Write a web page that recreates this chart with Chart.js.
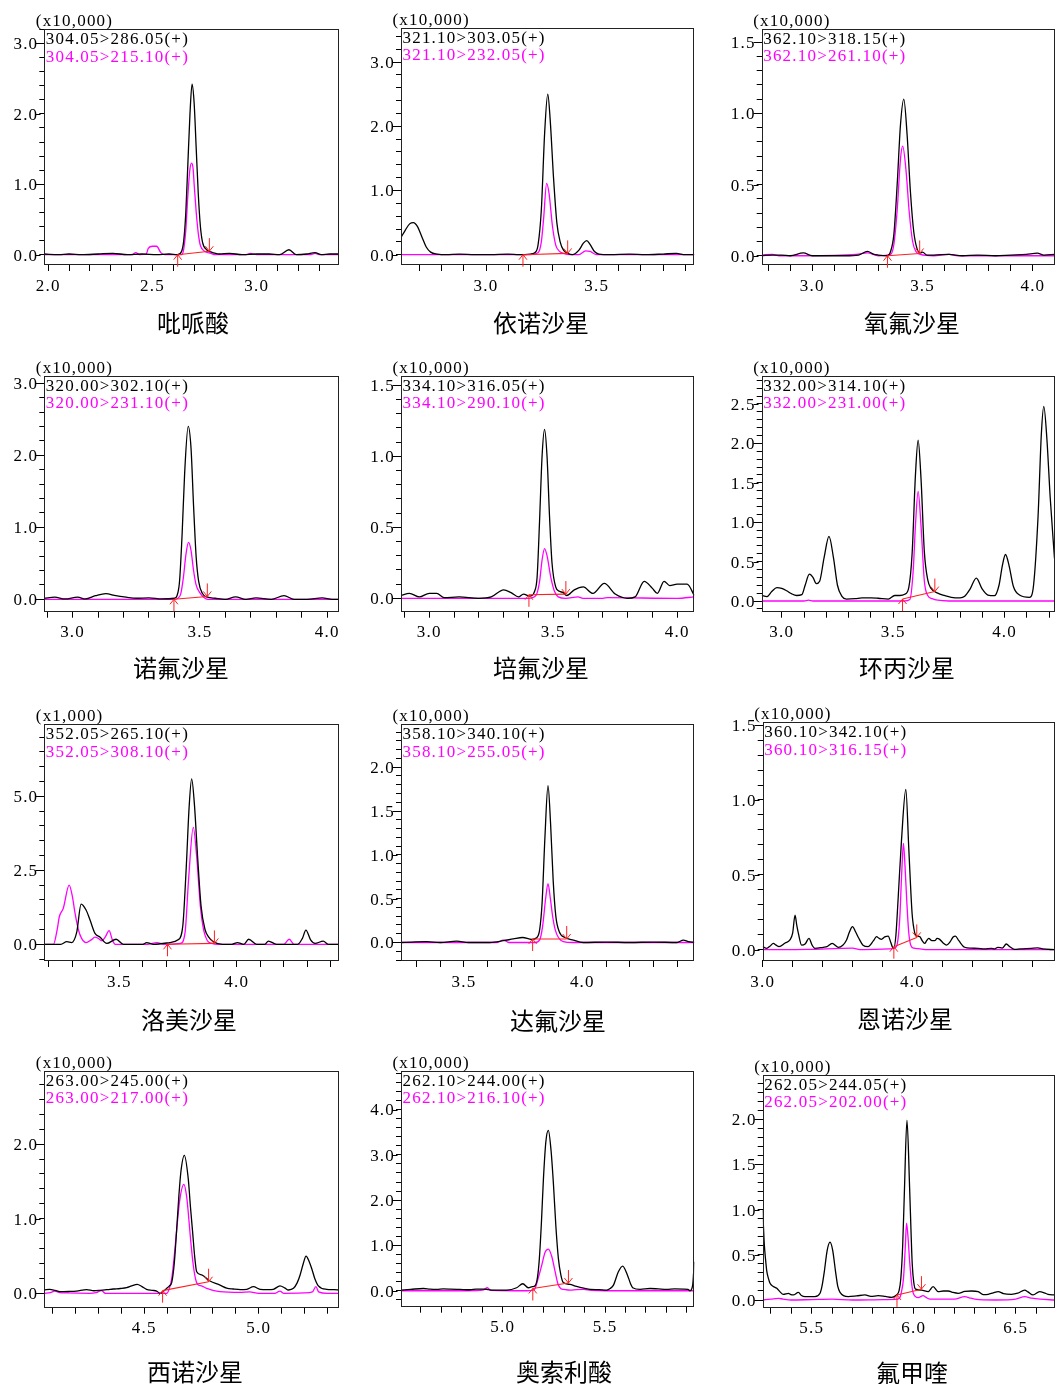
<!DOCTYPE html>
<html>
<head>
<meta charset="utf-8">
<script src="https://cdn.jsdelivr.net/npm/chart.js@4.4.0/dist/chart.umd.min.js"></script>
<style>
    html, body { margin: 0; padding: 0; background: #fff; }
    #page { position: relative; width: 1055px; height: 1384px; overflow: hidden; }
    #page canvas { position: absolute; }
</style>
</head>
<body>
<div id="page"></div>
<script>
const p1Black = [[1.981,0.01],[2.05,0.0],[2.10,0.01],[2.16,0.0],[2.24,0.01],[2.31,0.02],[2.38,0.0],[2.45,0.01],[2.52,0.0],[2.58,0.01],[2.62,0.0],[2.64,0.05],[2.65,0.2],[2.66,0.6],[2.67,1.3],[2.68,2.0],[2.69,2.42],[2.70,2.15],[2.71,1.5],[2.72,0.85],[2.73,0.4],[2.74,0.18],[2.76,0.07],[2.78,0.04],[2.82,0.01],[2.87,0.02],[2.93,0.0],[3.0,0.01],[3.06,0.01],[3.11,0.0],[3.155,0.07],[3.19,0.0],[3.24,0.01],[3.28,0.03],[3.31,0.0],[3.35,0.01],[3.395,0.01]];
const p1Pink = [[1.981,0.0],[2.40,0.0],[2.42,0.03],[2.44,0.0],[2.47,0.01],[2.48,0.09],[2.50,0.12],[2.52,0.12],[2.54,0.03],[2.56,0.0],[2.64,0.0],[2.65,0.08],[2.66,0.35],[2.67,0.85],[2.68,1.22],[2.688,1.3],[2.695,1.22],[2.70,1.0],[2.71,0.6],[2.72,0.3],[2.73,0.13],[2.75,0.05],[2.78,0.02],[2.80,0.0],[2.95,0.0],[2.97,0.02],[3.0,0.0],[3.26,0.0],[3.28,0.02],[3.30,0.0],[3.395,0.0]];
const p1Base = [[2.621,0.0],[2.773,0.05]];

const p2Black = [[2.616,0.27],[2.635,0.38],[2.655,0.48],[2.672,0.50],[2.69,0.44],[2.71,0.28],[2.73,0.12],[2.75,0.04],[2.78,0.01],[2.82,0.0],[2.88,0.01],[2.95,0.0],[3.02,0.0],[3.10,0.01],[3.15,0.0],[3.20,0.01],[3.22,0.03],[3.235,0.15],[3.25,0.7],[3.265,1.9],[3.279,2.50],[3.29,2.1],[3.305,1.2],[3.32,0.5],[3.335,0.2],[3.35,0.07],[3.37,0.02],[3.39,0.0],[3.42,0.07],[3.44,0.18],[3.455,0.22],[3.47,0.16],[3.49,0.05],[3.51,0.01],[3.56,0.0],[3.65,0.01],[3.72,0.0],[3.80,0.01],[3.86,0.02],[3.90,0.0],[3.941,0.0]];
const p2Pink = [[2.616,0.0],[3.20,0.0],[3.235,0.03],[3.25,0.2],[3.26,0.55],[3.274,1.11],[3.285,0.95],[3.30,0.45],[3.315,0.15],[3.33,0.06],[3.35,0.02],[3.38,0.0],[3.42,0.0],[3.45,0.06],[3.47,0.05],[3.50,0.0],[3.941,0.0]];
const p2Base = [[3.167,0.0],[3.369,0.02]];

const p3Black = [[2.771,0.0],[2.82,0.005],[2.86,0.005],[2.90,0.0],[2.96,0.02],[3.0,0.0],[3.05,0.0],[3.15,0.0],[3.21,0.005],[3.25,0.03],[3.28,0.01],[3.30,0.005],[3.34,0.0],[3.355,0.03],[3.37,0.15],[3.385,0.5],[3.40,0.92],[3.415,1.10],[3.43,0.85],[3.445,0.45],[3.46,0.17],[3.475,0.05],[3.49,0.02],[3.50,0.025],[3.52,0.005],[3.55,0.005],[3.62,0.01],[3.68,0.0],[3.75,0.005],[3.83,0.0],[3.9,0.005],[3.97,0.01],[4.02,0.018],[4.05,0.005],[4.098,0.01]];
const p3Pink = [[2.771,0.005],[2.82,0.01],[2.85,0.0],[2.97,0.0],[3.20,0.01],[3.25,0.02],[3.30,0.0],[3.355,0.01],[3.37,0.08],[3.385,0.32],[3.40,0.68],[3.41,0.77],[3.425,0.6],[3.44,0.3],[3.455,0.1],[3.47,0.03],[3.49,0.01],[3.55,0.0],[3.62,0.01],[3.66,0.0],[4.098,0.0]];
const p3Base = [[3.341,0.0],[3.487,0.016]];

const p4Black = [[2.889,0.015],[2.93,0.03],[2.97,0.005],[3.02,0.03],[3.05,0.005],[3.09,0.05],[3.13,0.08],[3.17,0.05],[3.21,0.03],[3.25,0.015],[3.30,0.02],[3.35,0.005],[3.40,0.015],[3.41,0.05],[3.42,0.25],[3.43,0.9],[3.44,1.75],[3.454,2.40],[3.465,2.1],[3.475,1.3],[3.485,0.6],[3.495,0.25],[3.51,0.08],[3.53,0.03],[3.56,0.015],[3.60,0.0],[3.64,0.035],[3.68,0.0],[3.72,0.02],[3.78,0.0],[3.83,0.05],[3.87,0.0],[3.92,0.0],[3.98,0.02],[4.02,0.0],[4.046,0.0]];
const p4Pink = [[2.889,0.0],[3.40,0.0],[3.415,0.02],[3.425,0.08],[3.435,0.3],[3.445,0.62],[3.455,0.79],[3.465,0.68],[3.475,0.4],[3.485,0.2],[3.50,0.09],[3.515,0.03],[3.53,0.0],[4.046,0.0]];
const p4Base = [[3.398,0.0],[3.529,0.04]];

const p5Black = [[2.886,0.02],[2.92,0.035],[2.96,0.01],[3.0,0.035],[3.03,0.035],[3.06,0.005],[3.12,0.01],[3.2,0.0],[3.25,0.01],[3.30,0.06],[3.33,0.04],[3.36,0.01],[3.38,0.03],[3.405,0.015],[3.425,0.05],[3.435,0.15],[3.445,0.55],[3.455,1.0],[3.465,1.19],[3.475,1.0],[3.485,0.58],[3.495,0.25],[3.51,0.08],[3.525,0.05],[3.54,0.04],[3.554,0.02],[3.585,0.06],[3.621,0.08],[3.66,0.035],[3.706,0.105],[3.75,0.03],[3.80,0.0],[3.83,0.01],[3.867,0.12],[3.90,0.07],[3.92,0.035],[3.947,0.12],[3.97,0.09],[4.0,0.10],[4.04,0.10],[4.069,0.02]];
const p5Pink = [[2.886,0.0],[3.40,0.0],[3.43,0.02],[3.445,0.12],[3.455,0.27],[3.465,0.35],[3.475,0.3],[3.49,0.15],[3.505,0.05],[3.52,0.01],[3.55,0.0],[3.6,0.01],[3.62,0.0],[3.70,0.0],[3.72,0.005],[4.0,0.0],[4.069,0.01]];
const p5Base = [[3.402,0.025],[3.551,0.03]];

const p6Black = [[2.91,0.07],[2.933,0.055],[2.955,0.12],[2.978,0.17],[3.0,0.16],[3.022,0.13],[3.045,0.09],[3.067,0.07],[3.09,0.08],[3.105,0.2],[3.124,0.34],[3.14,0.3],[3.155,0.22],[3.17,0.25],[3.19,0.55],[3.212,0.82],[3.232,0.55],[3.25,0.2],[3.27,0.06],[3.29,0.025],[3.33,0.03],[3.36,0.04],[3.40,0.04],[3.433,0.035],[3.478,0.025],[3.507,0.07],[3.53,0.07],[3.552,0.085],[3.57,0.17],[3.585,0.6],[3.60,1.6],[3.612,2.04],[3.625,1.55],[3.64,0.62],[3.655,0.27],[3.67,0.16],[3.70,0.10],[3.73,0.07],[3.761,0.047],[3.80,0.04],[3.821,0.06],[3.845,0.15],[3.873,0.29],[3.90,0.15],[3.925,0.076],[3.955,0.068],[3.975,0.2],[3.99,0.45],[4.004,0.59],[4.02,0.45],[4.04,0.18],[4.067,0.076],[4.112,0.047],[4.13,0.2],[4.15,1.06],[4.165,2.12],[4.176,2.47],[4.19,2.05],[4.205,1.3],[4.224,0.54]];
const p6Pink = [[2.91,0.0],[3.10,0.0],[3.12,0.01],[3.14,0.0],[3.55,0.0],[3.575,0.02],[3.59,0.39],[3.60,0.96],[3.612,1.39],[3.625,0.95],[3.64,0.25],[3.655,0.07],[3.675,0.03],[3.70,0.01],[3.75,0.0],[4.224,0.0]];
const p6Base = [[3.542,0.025],[3.687,0.12]];

const p7Black = [[3.18,0.0],[3.25,0.0],[3.276,0.09],[3.297,0.06],[3.318,0.4],[3.337,1.36],[3.358,1.16],[3.375,0.82],[3.396,0.37],[3.418,0.24],[3.446,0.03],[3.486,0.17],[3.517,0.0],[3.60,0.0],[3.616,0.06],[3.645,0.0],[3.716,0.06],[3.75,0.15],[3.77,0.6],[3.785,2.6],[3.797,4.6],[3.808,5.59],[3.82,4.7],[3.833,3.0],[3.848,1.3],[3.865,0.5],[3.88,0.25],[3.90,0.09],[3.94,0.0],[3.98,0.0],[4.003,0.06],[4.03,0.0],[4.051,0.17],[4.085,0.0],[4.12,0.0],[4.135,0.11],[4.17,0.0],[4.26,0.0],[4.28,0.2],[4.295,0.48],[4.315,0.15],[4.334,0.03],[4.369,0.11],[4.39,0.0],[4.436,0.0]];
const p7Pink = [[3.18,0.0],[3.219,0.0],[3.235,0.5],[3.244,0.93],[3.261,1.22],[3.286,2.0],[3.30,1.6],[3.311,1.05],[3.325,0.5],[3.339,0.2],[3.358,0.06],[3.38,0.15],[3.396,0.24],[3.41,0.2],[3.425,0.12],[3.44,0.25],[3.456,0.46],[3.47,0.15],[3.482,0.0],[3.62,0.0],[3.66,0.06],[3.69,0.0],[3.76,0.03],[3.78,0.4],[3.795,2.2],[3.815,3.95],[3.83,2.9],[3.845,1.3],[3.86,0.45],[3.875,0.12],[3.894,0.03],[3.92,0.0],[4.20,0.0],[4.224,0.17],[4.245,0.0],[4.436,0.0]];
const p7Base = [[3.705,0.0],[3.905,0.03]];

const p8Black = [[3.234,0.0],[3.28,0.005],[3.342,0.01],[3.40,0.0],[3.469,0.015],[3.52,0.0],[3.61,0.0],[3.666,0.02],[3.708,0.04],[3.748,0.057],[3.786,0.034],[3.807,0.053],[3.82,0.15],[3.83,0.45],[3.842,1.2],[3.855,1.79],[3.866,1.35],[3.877,0.7],[3.888,0.3],[3.903,0.12],[3.927,0.057],[3.962,0.027],[4.004,0.0],[4.10,0.005],[4.20,0.0],[4.30,0.005],[4.40,0.0],[4.427,0.027],[4.448,0.01],[4.473,0.0]];
const p8Pink = [[3.234,0.0],[3.64,0.0],[3.666,0.027],[3.69,0.0],[3.80,0.0],[3.82,0.03],[3.832,0.18],[3.845,0.5],[3.855,0.67],[3.865,0.5],[3.875,0.29],[3.885,0.15],[3.899,0.057],[3.92,0.01],[3.96,0.0],[4.473,0.0]];
const p8Base = [[3.79,0.04],[3.934,0.04]];

const p9Black = [[3.0,0.02],[3.027,0.009],[3.05,0.025],[3.071,0.042],[3.09,0.03],[3.109,0.02],[3.15,0.045],[3.182,0.065],[3.2,0.11],[3.216,0.23],[3.228,0.16],[3.238,0.11],[3.26,0.03],[3.285,0.04],[3.309,0.076],[3.33,0.03],[3.349,0.009],[3.404,0.016],[3.43,0.02],[3.464,0.042],[3.504,0.016],[3.535,0.03],[3.56,0.065],[3.58,0.12],[3.6,0.154],[3.62,0.12],[3.642,0.076],[3.67,0.03],[3.704,0.02],[3.74,0.06],[3.76,0.087],[3.778,0.075],[3.793,0.069],[3.815,0.085],[3.838,0.091],[3.855,0.05],[3.867,0.016],[3.876,0.01],[3.89,0.1],[3.904,0.33],[3.927,0.73],[3.956,1.07],[3.976,0.67],[3.998,0.24],[4.016,0.11],[4.03,0.09],[4.049,0.087],[4.065,0.06],[4.082,0.042],[4.095,0.06],[4.109,0.076],[4.13,0.06],[4.149,0.06],[4.165,0.075],[4.182,0.069],[4.205,0.045],[4.227,0.03],[4.25,0.05],[4.272,0.085],[4.287,0.091],[4.31,0.06],[4.349,0.016],[4.39,0.01],[4.438,0.009],[4.48,0.005],[4.527,0.009],[4.55,0.005],[4.571,0.016],[4.6,0.01],[4.627,0.038],[4.65,0.02],[4.682,0.002],[4.72,0.005],[4.793,0.009],[4.838,0.012],[4.87,0.005],[4.949,0.0]];
const p9Pink = [[3.0,0.0],[3.3,0.002],[3.6,0.01],[3.65,0.0],[3.85,0.005],[3.893,0.02],[3.905,0.08],[3.916,0.22],[3.928,0.5],[3.94,0.71],[3.951,0.55],[3.962,0.33],[3.975,0.12],[3.989,0.03],[4.01,0.01],[4.038,0.007],[4.1,0.0],[4.949,0.0]];
const p9Base = [[3.876,0.02],[4.029,0.082]];

const p10Black = [[4.063,0.045],[4.087,0.054],[4.11,0.04],[4.131,0.022],[4.17,0.025],[4.204,0.031],[4.248,0.049],[4.28,0.035],[4.306,0.04],[4.34,0.05],[4.364,0.058],[4.395,0.065],[4.423,0.076],[4.445,0.1],[4.469,0.12],[4.49,0.09],[4.51,0.054],[4.535,0.04],[4.554,0.031],[4.569,0.0],[4.585,0.03],[4.598,0.067],[4.61,0.1],[4.62,0.147],[4.631,0.4],[4.641,0.83],[4.651,1.3],[4.66,1.63],[4.675,1.85],[4.692,1.54],[4.702,1.15],[4.711,0.83],[4.72,0.5],[4.729,0.29],[4.751,0.246],[4.787,0.165],[4.831,0.11],[4.86,0.07],[4.889,0.058],[4.92,0.05],[4.948,0.054],[4.977,0.089],[5.006,0.054],[5.04,0.05],[5.064,0.054],[5.093,0.1],[5.115,0.07],[5.13,0.045],[5.152,0.067],[5.168,0.14],[5.181,0.246],[5.195,0.4],[5.207,0.5],[5.22,0.43],[5.232,0.33],[5.245,0.2],[5.261,0.1],[5.297,0.054],[5.33,0.05],[5.351,0.045]];
const p10Pink = [[4.063,0.0],[4.09,0.01],[4.109,0.03],[4.13,0.01],[4.16,0.005],[4.26,0.0],[4.29,0.01],[4.313,0.036],[4.33,0.0],[4.598,0.0],[4.608,0.05],[4.62,0.2],[4.631,0.5],[4.641,0.83],[4.655,1.25],[4.673,1.46],[4.685,1.3],[4.692,1.09],[4.703,0.7],[4.714,0.38],[4.725,0.18],[4.733,0.12],[4.75,0.1],[4.773,0.067],[4.8,0.04],[4.831,0.022],[4.918,0.013],[4.96,0.02],[5.0,0.0],[5.07,0.0],[5.093,0.031],[5.11,0.0],[5.2,0.005],[5.235,0.02],[5.25,0.09],[5.262,0.02],[5.3,0.0],[5.351,0.0]];
const p10Base = [[4.58,0.036],[4.781,0.156]];

const p11Black = [[4.503,0.015],[4.55,0.03],[4.612,0.05],[4.645,0.035],[4.678,0.03],[4.71,0.04],[4.743,0.037],[4.79,0.03],[4.84,0.022],[4.87,0.035],[4.906,0.037],[4.93,0.025],[4.954,0.015],[5.02,0.015],[5.068,0.066],[5.098,0.155],[5.125,0.066],[5.145,0.09],[5.158,0.11],[5.17,0.3],[5.179,0.71],[5.189,1.5],[5.199,2.48],[5.211,3.3],[5.223,3.54],[5.236,3.1],[5.248,2.34],[5.26,1.4],[5.272,0.71],[5.284,0.35],[5.296,0.18],[5.329,0.14],[5.355,0.1],[5.378,0.074],[5.427,0.03],[5.47,0.025],[5.508,0.015],[5.525,0.05],[5.541,0.125],[5.565,0.42],[5.586,0.545],[5.609,0.35],[5.625,0.15],[5.635,0.066],[5.671,0.03],[5.72,0.05],[5.76,0.04],[5.801,0.03],[5.84,0.04],[5.883,0.037],[5.905,0.03],[5.915,0.0],[5.928,0.125],[5.936,0.64]];
const p11Pink = [[4.503,0.0],[4.8,0.0],[4.89,0.01],[4.906,0.02],[4.925,0.066],[4.94,0.01],[5.117,0.0],[5.145,0.01],[5.158,0.05],[5.175,0.3],[5.191,0.57],[5.207,0.85],[5.223,0.92],[5.24,0.75],[5.256,0.42],[5.27,0.15],[5.283,0.05],[5.3,0.03],[5.329,0.015],[5.36,0.025],[5.394,0.03],[5.43,0.01],[5.5,0.0],[5.936,0.0]];
const p11Base = [[5.147,0.05],[5.321,0.17]];

const p12Black = [[5.26,1.0],[5.264,0.8],[5.268,0.61],[5.274,0.45],[5.28,0.32],[5.288,0.24],[5.296,0.185],[5.312,0.15],[5.329,0.13],[5.345,0.09],[5.361,0.063],[5.386,0.074],[5.398,0.06],[5.41,0.056],[5.435,0.085],[5.45,0.05],[5.467,0.037],[5.516,0.037],[5.541,0.074],[5.552,0.17],[5.562,0.315],[5.576,0.55],[5.59,0.64],[5.603,0.55],[5.617,0.315],[5.628,0.15],[5.639,0.085],[5.679,0.037],[5.72,0.045],[5.761,0.056],[5.79,0.04],[5.826,0.048],[5.86,0.04],[5.892,0.03],[5.916,0.056],[5.928,0.1],[5.937,0.24],[5.946,0.6],[5.954,1.17],[5.967,1.99],[5.98,1.24],[5.987,0.75],[5.993,0.39],[6.0,0.2],[6.009,0.12],[6.038,0.11],[6.071,0.093],[6.095,0.148],[6.12,0.093],[6.145,0.1],[6.169,0.1],[6.19,0.085],[6.218,0.074],[6.25,0.095],[6.283,0.1],[6.316,0.093],[6.34,0.06],[6.365,0.063],[6.39,0.08],[6.414,0.093],[6.44,0.07],[6.479,0.063],[6.51,0.075],[6.544,0.11],[6.56,0.09],[6.585,0.056],[6.617,0.093],[6.64,0.08],[6.658,0.063],[6.69,0.056]];
const p12Pink = [[5.26,0.0],[5.3,0.01],[5.337,0.019],[5.36,0.01],[5.4,0.0],[5.5,0.005],[5.6,0.01],[5.7,0.0],[5.85,0.005],[5.92,0.01],[5.932,0.026],[5.94,0.09],[5.95,0.24],[5.958,0.55],[5.965,0.85],[5.972,0.7],[5.98,0.43],[5.99,0.18],[5.998,0.074],[6.022,0.026],[6.046,0.048],[6.06,0.03],[6.08,0.01],[6.2,0.01],[6.25,0.037],[6.28,0.02],[6.3,0.01],[6.4,0.0],[6.5,0.01],[6.544,0.037],[6.58,0.02],[6.62,0.01],[6.69,0.0]];
const p12Base = [[5.918,0.056],[6.038,0.12]];

// ---- textos ----
const titles = ['吡哌酸', '依诺沙星', '氧氟沙星', '诺氟沙星', '培氟沙星', '环丙沙星',
                '洛美沙星', '达氟沙星', '恩诺沙星', '西诺沙星', '奥索利酸', '氟甲喹'];
const units = ['(x10,000)', '(x10,000)', '(x10,000)', '(x10,000)', '(x10,000)', '(x10,000)',
               '(x1,000)', '(x10,000)', '(x10,000)', '(x10,000)', '(x10,000)', '(x10,000)'];
const blackLabels = ['304.05>286.05(+)', '321.10>303.05(+)', '362.10>318.15(+)', '320.00>302.10(+)',
                     '334.10>316.05(+)', '332.00>314.10(+)', '352.05>265.10(+)', '358.10>340.10(+)',
                     '360.10>342.10(+)', '263.00>245.00(+)', '262.10>244.00(+)', '262.05>244.05(+)'];
const pinkLabels = ['304.05>215.10(+)', '321.10>232.05(+)', '362.10>261.10(+)', '320.00>231.10(+)',
                    '334.10>290.10(+)', '332.00>231.00(+)', '352.05>308.10(+)', '358.10>255.05(+)',
                    '360.10>316.15(+)', '263.00>217.00(+)', '262.10>216.10(+)', '262.05>202.00(+)'];

// ---- ejes: [min, max, paso menor, paso mayor] ----
const xAxes = [[1.981, 3.395, 0.1, 0.5], [2.616, 3.941, 0.1, 0.5], [2.771, 4.098, 0.1, 0.5],
               [2.889, 4.046, 0.1, 0.5], [2.886, 4.069, 0.1, 0.5], [2.910, 4.224, 0.1, 0.5],
               [3.18, 4.436, 0.1, 0.5], [3.234, 4.473, 0.1, 0.5], [3.0, 4.949, 0.2, 1.0],
               [4.063, 5.351, 0.1, 0.5], [4.503, 5.936, 0.1, 0.5], [5.26, 6.69, 0.1, 0.5]];
const yAxes = [[-0.132, 3.20, 0.2, 1.0], [-0.145, 3.53, 0.2, 1.0], [-0.058, 1.593, 0.1, 0.5],
               [-0.158, 3.10, 0.2, 1.0], [-0.087, 1.565, 0.1, 0.5], [-0.123, 2.855, 0.1, 0.5],
               [-0.53, 7.43, 0.5, 2.5], [-0.20, 2.49, 0.1, 0.5], [-0.069, 1.519, 0.1, 0.5],
               [-0.179, 2.98, 0.2, 1.0], [-0.33, 4.85, 0.2, 1.0], [-0.074, 2.49, 0.1, 0.5]];

const blackSeries = [p1Black, p2Black, p3Black, p4Black, p5Black, p6Black, p7Black, p8Black, p9Black, p10Black, p11Black, p12Black];
const pinkSeries = [p1Pink, p2Pink, p3Pink, p4Pink, p5Pink, p6Pink, p7Pink, p8Pink, p9Pink, p10Pink, p11Pink, p12Pink];
const baseSeries = [p1Base, p2Base, p3Base, p4Base, p5Base, p6Base, p7Base, p8Base, p9Base, p10Base, p11Base, p12Base];

// ---- disposición en la página ----
const colLeft = [0, 350, 705], colWidth = [350, 355, 350];
const rowTop = [0, 345, 695, 1045], rowHeight = [345, 350, 350, 339];
const boxes = [
    [44.3, 29.3, 339, 264], [401, 28, 694.3, 264], [761.7, 29, 1054.5, 264],
    [44.3, 376, 339, 610.7], [401, 376, 694.3, 610.7], [761.7, 376, 1054.5, 610.7],
    [44.3, 724.3, 339, 960], [401, 724.3, 694.3, 960], [762.7, 722.3, 1054.5, 960],
    [44.3, 1071, 339, 1306.7], [401, 1071, 694.3, 1305.7], [762.7, 1075, 1054.5, 1306.7]
];
const titlePos = [[193, 323], [541, 323], [912, 323], [181, 668], [541, 668], [907, 668],
                  [189, 1020], [558, 1021], [905, 1019], [195, 1372], [564, 1372], [912, 1373]];

const Y_W = 40, X_H = 32;
const SERIF = '"Liberation Serif", "Times New Roman", serif';
const CJK = '"Noto Sans CJK SC", "Noto Sans", sans-serif';

const toPts = arr => arr.map(([x, y]) => ({ x, y }));
const isMajor = (v, major) => Math.abs(v / major - Math.round(v / major)) < 1e-6;

// Marco, flechas de la línea base, textos
const decor = {
    id: 'decor',
    beforeDraw(chart) {
        chart.ctx.letterSpacing = '1.2px';
    },
    afterDraw(chart, args, o) {
        const { ctx, chartArea: a } = chart;
        const yScale = chart.scales.y;
        ctx.save();
        ctx.letterSpacing = '1.2px';

        // marco del gráfico
        ctx.strokeStyle = '#222';
        ctx.lineWidth = 1;
        const l = Math.round(a.left) + 0.5, t = Math.round(a.top) + 0.5;
        const r = Math.round(a.right) - 0.5, b = Math.round(a.bottom) + 0.5;
        ctx.strokeRect(l, t, r - l, b - t);

        // marcas mayores del eje Y un poco más largas
        ctx.strokeStyle = '#000';
        ctx.beginPath();
        yScale.ticks.forEach(tk => {
            if (!isMajor(tk.value, o.yMajor)) return;
            const py = Math.round(yScale.getPixelForValue(tk.value)) + 0.5;
            ctx.moveTo(l - 9, py);
            ctx.lineTo(l - 4, py);
        });
        ctx.stroke();

        // flechas de inicio y fin de la integración
        const pts = chart.getDatasetMeta(0).data;
        if (pts.length === 2) {
            ctx.strokeStyle = '#ff2020';
            ctx.lineWidth = 1;
            const s = pts[0], e = pts[1];
            ctx.beginPath();
            ctx.moveTo(s.x, s.y + 12); ctx.lineTo(s.x, s.y);
            ctx.moveTo(s.x - 4, s.y + 5); ctx.lineTo(s.x, s.y); ctx.lineTo(s.x + 4, s.y + 5);
            ctx.moveTo(e.x, e.y - 13); ctx.lineTo(e.x, e.y);
            ctx.moveTo(e.x - 4, e.y - 5); ctx.lineTo(e.x, e.y); ctx.lineTo(e.x + 4, e.y - 5);
            ctx.stroke();
        }

        // factor de escala y leyenda
        ctx.font = '17px ' + SERIF;
        ctx.textBaseline = 'middle';
        ctx.textAlign = 'left';
        ctx.fillStyle = '#000';
        ctx.fillText(o.unit, a.left - 8.5, a.top - 7.5);
        ctx.fillText(o.black, a.left + 1.5, a.top + 10.5);
        ctx.fillStyle = '#ff00ff';
        ctx.fillText(o.pink, a.left + 1.5, a.top + 28);

        // nombre del compuesto
        ctx.letterSpacing = '0px';
        ctx.font = '24px ' + CJK;
        ctx.fillStyle = '#000';
        ctx.textAlign = 'center';
        ctx.fillText(o.title, o.titleX, o.titleY);
        ctx.restore();
    }
};

const page = document.getElementById('page');

titles.forEach((title, i) => {
    const col = i % 3, row = Math.floor(i / 3);
    const cx = colLeft[col], cy = rowTop[row], cw = colWidth[col], ch = rowHeight[row];
    const [L, T, R, B] = boxes[i];
    const [xMin, xMax, xStep, xMajor] = xAxes[i];
    const [yMin, yMax, yStep, yMajor] = yAxes[i];

    const canvas = document.createElement('canvas');
    canvas.width = cw;
    canvas.height = ch;
    canvas.style.left = cx + 'px';
    canvas.style.top = cy + 'px';
    page.appendChild(canvas);

    new Chart(canvas, {
        type: 'line',
        data: {
            datasets: [
                { data: toPts(baseSeries[i]), borderColor: '#ff2020', borderWidth: 1.1, pointRadius: 0, tension: 0 },
                { data: toPts(blackSeries[i]), borderColor: '#000', borderWidth: 1.3, pointRadius: 0, cubicInterpolationMode: 'monotone' },
                { data: toPts(pinkSeries[i]), borderColor: '#ff00ff', borderWidth: 1.3, pointRadius: 0, cubicInterpolationMode: 'monotone' }
            ]
        },
        options: {
            responsive: false,
            animation: false,
            devicePixelRatio: 1,
            events: [],
            layout: {
                autoPadding: false,
                padding: { left: L - cx - Y_W, top: T - cy, right: cx + cw - R, bottom: cy + ch - B - X_H }
            },
            scales: {
                x: {
                    type: 'linear',
                    min: xMin,
                    max: xMax,
                    border: { display: false },
                    grid: { drawOnChartArea: false, drawTicks: true, tickLength: 7, color: '#000' },
                    ticks: {
                        stepSize: xStep,
                        includeBounds: false,
                        autoSkip: false,
                        maxRotation: 0,
                        padding: 5,
                        color: '#000',
                        font: { family: SERIF, size: 17 },
                        callback: v => isMajor(v, xMajor) ? v.toFixed(1) : ''
                    },
                    afterFit: s => { s.height = X_H; s.paddingLeft = 0; s.paddingRight = 0; }
                },
                y: {
                    min: yMin,
                    max: yMax,
                    border: { display: false },
                    grid: { drawOnChartArea: false, drawTicks: true, tickLength: 5, color: '#000' },
                    ticks: {
                        stepSize: yStep,
                        includeBounds: false,
                        autoSkip: false,
                        padding: 1,
                        labelOffset: 1.5,
                        color: '#000',
                        font: { family: SERIF, size: 17 },
                        callback: v => isMajor(v, yMajor) ? v.toFixed(1) : ''
                    },
                    afterFit: s => { s.width = Y_W; s.paddingTop = 0; s.paddingBottom = 0; }
                }
            },
            plugins: {
                legend: { display: false },
                tooltip: { enabled: false },
                decor: {
                    yMajor: yMajor,
                    unit: units[i],
                    black: blackLabels[i],
                    pink: pinkLabels[i],
                    title: title,
                    titleX: titlePos[i][0] - cx,
                    titleY: titlePos[i][1] - cy
                }
            }
        },
        plugins: [decor]
    });
});
</script>
</body>
</html>
